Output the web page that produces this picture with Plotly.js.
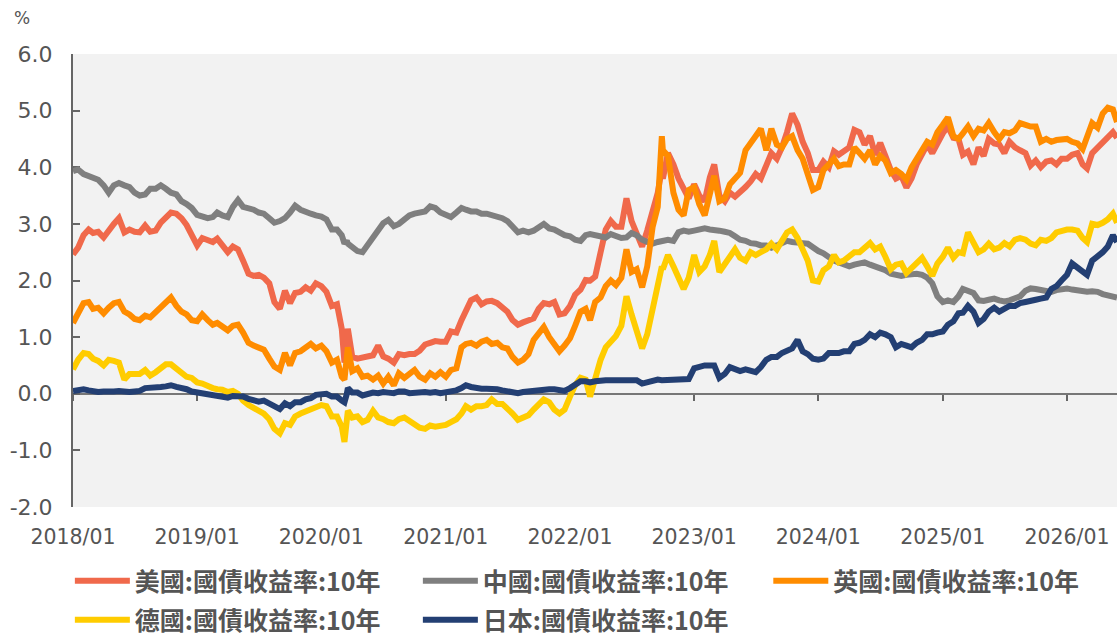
<!DOCTYPE html>
<html>
<head>
<meta charset="utf-8">
<script src="https://cdn.plot.ly/plotly-3.0.1.min.js"></script>
<style>html,body{margin:0;padding:0;background:#fff;}#chart{width:1117px;height:637px;}</style>
</head>
<body>
<div id="chart"></div>
<script>
// ---- data ----
const seriesNames = ['美國:國債收益率:10年','中國:國債收益率:10年','英國:國債收益率:10年','德國:國債收益率:10年','日本:國債收益率:10年'];
const seriesColors = ['#F0694B','#7F7F7F','#FF8C00','#FFCC00','#233F73'];
const extraDates = ['2020-03-09','2020-03-19','2022-09-28','2026-05-28'];
const yTickVals = [-2,-1,0,1,2,3,4,5,6];
const yTickText = ['-2.0','-1.0','0.0','1.0','2.0','3.0','4.0','5.0','6.0'];

const usYield = [
 2.46,2.58,2.80,2.90,2.84,2.86,2.76,2.90,3.00,3.10,2.85,2.90,2.86,2.85,2.97,2.86,2.88,3.02,3.10,3.20,3.18,3.10,2.98,2.80,
 2.62,2.75,2.72,2.68,2.74,2.62,2.50,2.60,2.55,2.35,2.12,2.08,2.10,2.05,1.95,1.62,1.50,1.82,1.60,1.78,1.80,1.88,1.82,1.95,
 1.90,1.80,1.55,1.58,1.15,0.55,0.72,1.15,0.65,0.62,0.64,0.65,0.68,0.85,0.66,0.62,0.55,0.70,0.68,0.70,0.70,0.76,0.87,0.90,0.93,0.92,
 0.92,1.10,1.08,1.30,1.45,1.65,1.70,1.58,1.63,1.64,1.60,1.52,1.45,1.30,1.22,1.26,1.30,1.33,1.50,1.60,1.58,1.62,1.40,1.42,
 1.55,1.75,1.84,2.01,2.00,2.07,2.50,2.90,3.05,2.95,2.95,3.45,3.05,2.85,2.60,2.88,3.25,3.55,3.98,3.80,4.25,4.05,3.80,3.60,3.45,
 3.70,3.50,3.40,3.82,4.05,3.50,3.40,3.55,3.48,3.55,3.65,3.75,3.88,3.80,4.05,4.25,4.15,4.35,4.62,4.95,4.75,4.45,4.25,3.95,
 3.95,4.10,4.00,4.28,4.22,4.30,4.35,4.66,4.62,4.40,4.55,4.22,4.43,4.20,3.95,3.80,3.85,3.64,3.80,4.05,4.25,4.40,4.25,4.45,
 4.60,4.72,4.52,4.50,4.22,4.28,4.05,4.35,4.20,4.50,4.42,4.40,4.25,4.45,4.35,4.30,4.25,4.03,4.12,4.00,4.10,4.12,4.05,4.15,
 4.15,4.22,4.25,4.05,3.98,4.25,4.35,4.43,4.55,4.62,4.52
];
const cnYield = [
 3.93,3.96,3.88,3.85,3.80,3.78,3.68,3.55,3.68,3.72,3.68,3.65,3.55,3.50,3.52,3.62,3.62,3.68,3.62,3.55,3.52,3.40,3.35,3.28,
 3.16,3.12,3.10,3.12,3.20,3.15,3.12,3.30,3.42,3.30,3.28,3.25,3.20,3.18,3.10,3.02,3.05,3.10,3.20,3.32,3.25,3.20,3.18,3.15,
 3.13,3.08,2.90,2.90,2.80,2.65,2.70,2.65,2.58,2.52,2.50,2.62,2.78,2.90,3.01,3.07,2.96,3.00,3.08,3.15,3.18,3.20,3.22,3.31,3.28,3.20,
 3.15,3.12,3.20,3.28,3.25,3.22,3.22,3.18,3.18,3.16,3.12,3.10,3.05,2.95,2.85,2.88,2.85,2.88,2.95,3.00,2.92,2.90,2.85,2.80,
 2.78,2.72,2.70,2.80,2.82,2.80,2.78,2.76,2.82,2.78,2.75,2.76,2.84,2.80,2.72,2.68,2.65,2.68,2.70,2.72,2.72,2.70,2.85,2.88,2.86,
 2.88,2.90,2.92,2.90,2.90,2.88,2.86,2.84,2.78,2.72,2.70,2.66,2.65,2.62,2.62,2.58,2.62,2.66,2.70,2.68,2.68,2.66,2.65,2.58,
 2.52,2.48,2.40,2.35,2.32,2.28,2.25,2.28,2.30,2.32,2.28,2.25,2.22,2.18,2.12,2.10,2.08,2.10,2.12,2.12,2.10,2.05,1.95,1.72,
 1.62,1.65,1.62,1.72,1.85,1.82,1.78,1.65,1.64,1.66,1.68,1.65,1.63,1.65,1.70,1.72,1.82,1.86,1.85,1.83,1.82,1.80,1.83,1.85,
 1.86,1.84,1.82,1.80,1.80,1.81,1.80,1.76,1.74,1.72,1.70
];
const ukYield = [
 1.25,1.42,1.60,1.62,1.50,1.52,1.42,1.52,1.60,1.62,1.45,1.40,1.32,1.30,1.38,1.35,1.45,1.55,1.62,1.70,1.55,1.45,1.40,1.30,
 1.28,1.40,1.30,1.22,1.25,1.18,1.12,1.20,1.22,1.08,0.90,0.85,0.82,0.78,0.62,0.48,0.42,0.72,0.50,0.72,0.75,0.82,0.88,0.80,
 0.85,0.75,0.55,0.60,0.30,0.25,0.55,0.82,0.40,0.45,0.30,0.32,0.25,0.32,0.18,0.30,0.15,0.36,0.28,0.36,0.42,0.30,0.25,0.36,0.30,0.38,
 0.30,0.42,0.45,0.82,0.88,0.90,0.85,0.92,0.95,0.88,0.90,0.82,0.80,0.65,0.55,0.60,0.70,0.95,1.05,1.18,1.00,0.85,0.75,0.85,
 0.98,1.20,1.45,1.50,1.30,1.62,1.70,1.90,2.00,1.92,2.05,2.55,2.15,2.20,1.88,2.25,2.95,3.30,4.55,4.30,4.20,3.55,3.25,3.15,3.60,
 3.65,3.35,3.15,3.55,3.85,3.40,3.45,3.70,3.80,3.90,4.30,4.45,4.55,4.68,4.30,4.68,4.40,4.35,4.50,4.55,4.30,4.15,3.90,3.60,
 3.65,3.95,4.05,4.15,4.02,4.05,4.05,4.35,4.25,4.15,4.30,4.05,4.20,4.12,3.90,3.95,3.88,3.78,4.00,4.15,4.35,4.45,4.40,4.62,
 4.75,4.88,4.55,4.50,4.60,4.72,4.55,4.68,4.65,4.78,4.62,4.50,4.62,4.60,4.65,4.78,4.75,4.72,4.72,4.45,4.50,4.45,4.48,4.50,
 4.50,4.45,4.42,4.32,4.55,4.78,4.70,4.95,5.05,5.02,4.80
];
const deYield = [
 0.43,0.60,0.72,0.70,0.62,0.58,0.50,0.60,0.58,0.55,0.25,0.35,0.35,0.35,0.42,0.32,0.38,0.45,0.52,0.52,0.45,0.38,0.30,0.28,
 0.20,0.18,0.13,0.10,0.08,0.07,0.03,0.05,0.00,-0.12,-0.20,-0.25,-0.30,-0.35,-0.45,-0.62,-0.70,-0.52,-0.55,-0.40,-0.35,-0.32,-0.28,-0.25,
 -0.20,-0.22,-0.40,-0.40,-0.58,-0.85,-0.50,-0.30,-0.42,-0.40,-0.50,-0.46,-0.30,-0.42,-0.45,-0.50,-0.52,-0.45,-0.42,-0.48,-0.52,-0.60,-0.62,-0.56,-0.58,-0.56,
 -0.55,-0.50,-0.45,-0.35,-0.22,-0.28,-0.22,-0.22,-0.20,-0.10,-0.18,-0.18,-0.25,-0.35,-0.46,-0.42,-0.38,-0.28,-0.20,-0.10,-0.15,-0.28,-0.35,-0.28,
 -0.05,0.15,0.28,0.25,-0.05,0.30,0.60,0.82,0.92,1.02,1.20,1.72,1.40,1.10,0.80,1.05,1.50,1.85,2.25,2.20,2.45,2.25,2.05,1.85,2.05,
 2.45,2.15,2.25,2.45,2.70,2.15,2.30,2.45,2.55,2.40,2.35,2.50,2.45,2.50,2.55,2.65,2.55,2.70,2.85,2.90,2.75,2.55,2.35,2.00,
 1.98,2.18,2.25,2.45,2.32,2.35,2.42,2.50,2.50,2.58,2.66,2.55,2.60,2.42,2.20,2.28,2.30,2.13,2.22,2.30,2.40,2.25,2.08,2.30,
 2.42,2.58,2.40,2.50,2.48,2.85,2.65,2.50,2.55,2.65,2.55,2.58,2.66,2.60,2.72,2.75,2.72,2.65,2.62,2.72,2.70,2.75,2.85,2.88,
 2.90,2.90,2.88,2.75,2.68,3.00,2.98,3.02,3.08,3.18,3.02
];
const jpYield = [
 0.05,0.06,0.08,0.06,0.04,0.03,0.04,0.03,0.04,0.05,0.03,0.03,0.04,0.05,0.10,0.10,0.11,0.12,0.13,0.15,0.12,0.11,0.08,0.04,
 0.02,0.01,-0.01,-0.03,-0.03,-0.07,-0.07,-0.04,-0.04,-0.05,-0.09,-0.12,-0.14,-0.12,-0.18,-0.22,-0.27,-0.17,-0.22,-0.15,-0.15,-0.10,-0.08,-0.02,
 -0.02,0.00,-0.05,-0.05,-0.12,-0.15,0.00,0.10,0.02,0.02,-0.03,0.00,0.02,0.01,0.03,0.02,0.01,0.04,0.04,0.01,0.02,0.03,0.03,0.02,0.03,0.01,
 0.02,0.05,0.06,0.10,0.15,0.12,0.10,0.09,0.09,0.09,0.08,0.06,0.05,0.02,0.01,0.03,0.04,0.05,0.08,0.09,0.08,0.08,0.06,0.05,
 0.10,0.15,0.22,0.22,0.20,0.22,0.24,0.24,0.24,0.24,0.24,0.25,0.23,0.24,0.18,0.20,0.24,0.25,0.24,0.24,0.25,0.25,0.25,0.25,0.26,
 0.45,0.48,0.50,0.50,0.50,0.28,0.35,0.47,0.42,0.40,0.43,0.40,0.38,0.47,0.60,0.65,0.65,0.72,0.77,0.80,0.95,0.75,0.70,0.62,
 0.60,0.62,0.72,0.72,0.72,0.75,0.75,0.88,0.90,0.95,1.05,1.00,1.08,1.05,1.00,0.82,0.88,0.85,0.82,0.90,0.95,1.05,1.05,1.08,
 1.10,1.22,1.28,1.42,1.43,1.55,1.45,1.25,1.32,1.45,1.52,1.45,1.50,1.55,1.55,1.60,1.62,1.65,1.66,1.68,1.70,1.85,1.90,2.00,
 2.10,2.30,2.22,2.15,2.10,2.35,2.42,2.50,2.60,2.80,2.68
];

// semi-monthly observation dates (1st and 16th), plus a few extra event dates
function buildDates() {
  const d = [];
  for (let y = 2018; y <= 2026; y++) {
    const lastMonth = (y === 2026) ? 5 : 12;
    for (let m = 1; m <= lastMonth; m++) {
      const mm = String(m).padStart(2, '0');
      d.push(y + '-' + mm + '-01', y + '-' + mm + '-16');
    }
  }
  return d.concat(extraDates).sort();
}
const dates = buildDates();
const allSeries = [usYield, cnYield, ukYield, deYield, jpYield];
const legendOf = ['legend', 'legend', 'legend2', 'legend3', 'legend3'];

const traces = allSeries.map((vals, i) => ({
  type: 'scatter', mode: 'lines', x: dates, y: vals,
  name: seriesNames[i], legend: legendOf[i],
  line: {color: seriesColors[i], width: 6},
  hoverinfo: 'skip'
}));
traces.push({type: 'scatter', mode: 'lines', x: [], y: [], xaxis: 'x2', yaxis: 'y', showlegend: false, hoverinfo: 'skip'});

const xRange = ['2018-01-01', '2026-05-28'];
const legendFont = {family: 'Noto Sans CJK TC, Noto Sans CJK SC, sans-serif', size: 25, color: '#555555', weight: 'bold'};
const baseLegend = {orientation: 'h', xanchor: 'left', yanchor: 'middle', font: legendFont,
  bgcolor: 'rgba(0,0,0,0)', borderwidth: 0, traceorder: 'normal', itemclick: false, itemdoubleclick: false};

const layout = {
  width: 1117, height: 637,
  margin: {l: 73, r: 0, t: 54, b: 130, autoexpand: false},
  paper_bgcolor: '#ffffff', plot_bgcolor: '#f2f2f2',
  font: {family: 'DejaVu Sans, sans-serif', color: '#555555'},
  showlegend: true,
  xaxis: {type: 'date', range: xRange, tick0: '2018-01-01', dtick: 'M12', tickformat: '%Y/%m',
    ticks: '', showgrid: false, zeroline: false, showline: false,
    tickfont: {size: 20.5, color: '#555555'}, ticklabelstandoff: 15, fixedrange: true},
  xaxis2: {type: 'date', overlaying: 'x', anchor: 'free', position: 0.25, range: xRange,
    tick0: '2018-01-01', dtick: 'M12', ticks: 'outside', ticklen: 6, tickwidth: 2, tickcolor: '#666666',
    showticklabels: false, showline: true, linecolor: '#777777', linewidth: 2,
    showgrid: false, zeroline: false, layer: 'below traces', fixedrange: true},
  yaxis: {range: [-2, 6], tickvals: yTickVals, ticktext: yTickText, ticks: 'inside', ticklen: 7,
    tickwidth: 2, tickcolor: '#666666', showline: true, linecolor: '#666666', linewidth: 2,
    showgrid: false, zeroline: false, tickfont: {size: 22, color: '#555555'},
    ticklabelstandoff: 14, layer: 'below traces', fixedrange: true},
  legend: Object.assign({}, baseLegend, {x: -0.003, y: -0.1634, itemwidth: 55, entrywidth: 278}),
  legend2: Object.assign({}, baseLegend, {x: 0.666, y: -0.1634, itemwidth: 55}),
  legend3: Object.assign({}, baseLegend, {x: -0.003, y: -0.2495, itemwidth: 55, entrywidth: 278}),
  annotations: [{text: '%', xref: 'paper', yref: 'paper', x: -0.049, y: 1.0795,
    xanchor: 'center', yanchor: 'middle', showarrow: false, font: {size: 17, color: '#555555'}}]
};

Plotly.newPlot('chart', traces, layout, {displayModeBar: false, staticPlot: true});
</script>
</body>
</html>
